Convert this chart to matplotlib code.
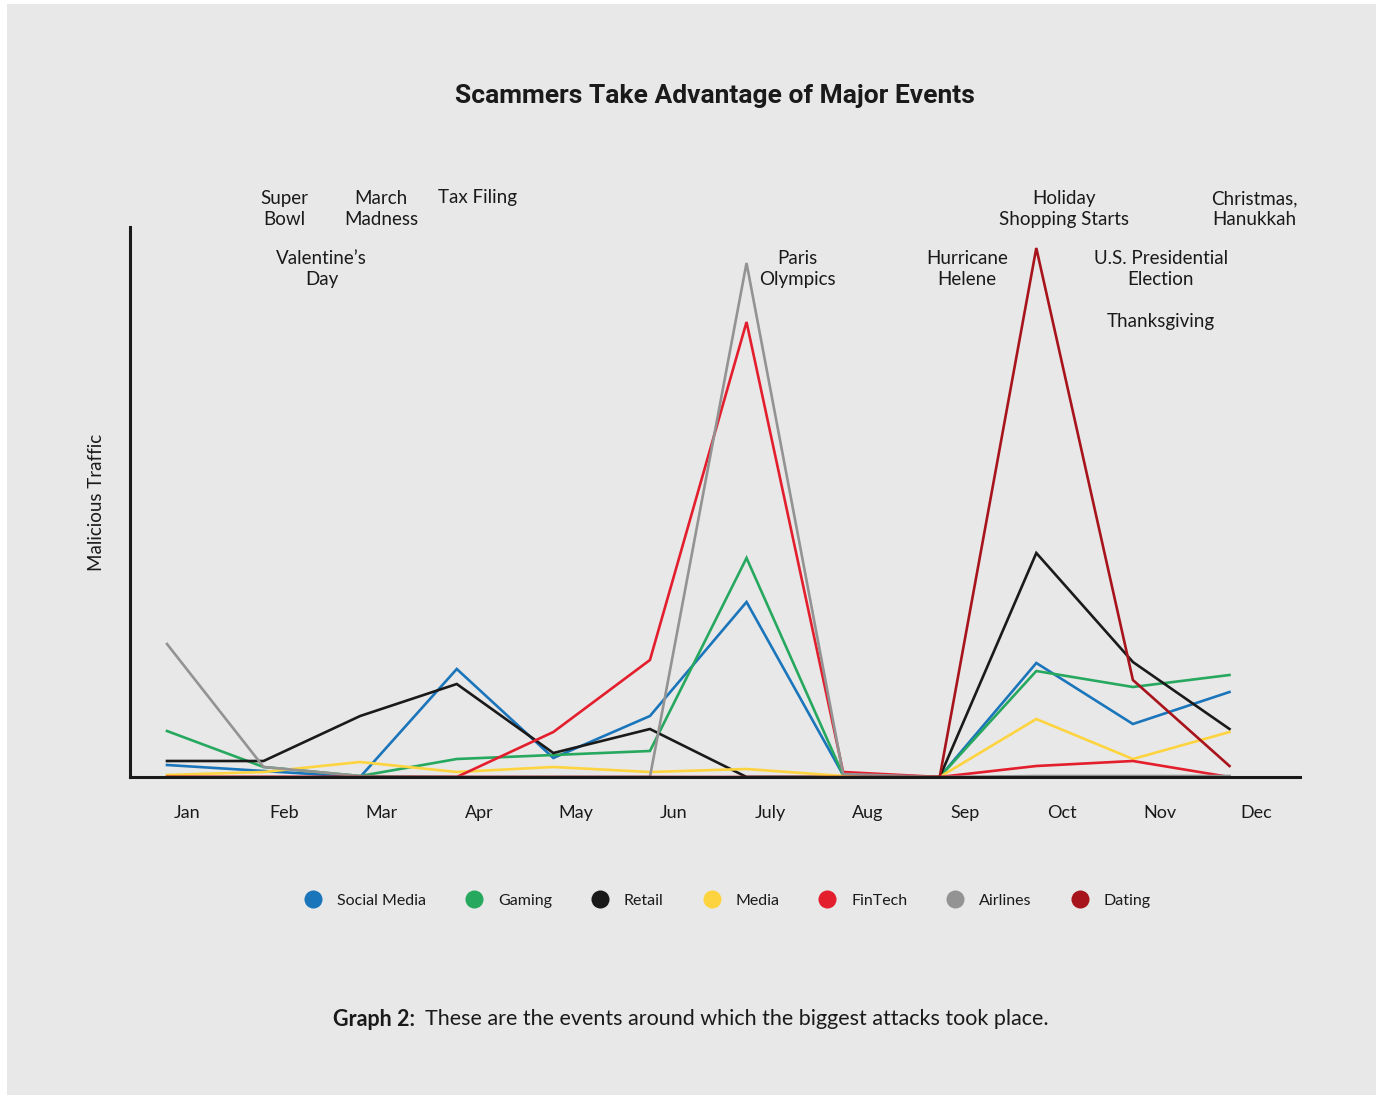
import matplotlib.pyplot as plt
from matplotlib.lines import Line2D
from matplotlib.patches import Rectangle

# ------------------
# Data (index of malicious traffic)
# ------------------
months = ["Jan", "Feb", "Mar", "Apr", "May", "Jun", "July", "Aug", "Sep", "Oct", "Nov", "Dec"]

social_media = [12, 6, 0, 108, 19, 61, 175, 2, 0, 114, 53, 85]
gaming = [46, 10, 1, 18, 22, 26, 219, 2, 0, 106, 90, 102]
retail = [16, 16, 61, 93, 24, 48, 0, 0, 0, 224, 115, 48]
media = [2, 5, 15, 5, 10, 5, 8, 1, 0, 58, 18, 45]
fintech = [0, 0, 0, 0, 45, 117, 455, 5, 0, 11, 16, 0]
airlines = [133, 10, 1, 0, 0, 0, 514, 3, 0, 1, 1, 1]
dating = [0, 0, 0, 0, 0, 0, 0, 0, 0, 529, 97, 11]

series_names = ["Social Media", "Gaming", "Retail", "Media", "FinTech", "Airlines", "Dating"]
series_values = [social_media, gaming, retail, media, fintech, airlines, dating]
series_colors = ["#1b75bb", "#27a85f", "#1a1a1a", "#fdd43f", "#e31e2d", "#939393", "#a8141b"]

# events: label, x position (month units), y position (traffic units)
event_labels = ["Super\nBowl", "March\nMadness", "Tax Filing", "Valentine\u2019s\nDay", "Paris\nOlympics",
                "Hurricane\nHelene", "Holiday\nShopping Starts", "U.S. Presidential\nElection",
                "Thanksgiving", "Christmas,\nHanukkah"]
event_x = [1.21, 2.215, 3.21, 1.60, 6.53, 8.28, 9.29, 10.29, 10.29, 11.26]
event_y = [568, 568, 579, 508, 508, 508, 568, 508, 455, 568]

bg = "#e8e8e8"
txt = "#1a1a1a"
plt.rcParams['font.family'] = ['Lato', 'DejaVu Sans']

fig = plt.figure(figsize=(13.83, 10.98), dpi=100, facecolor="white")
fig.patches.append(Rectangle((7 / 1383, 1 - 1095 / 1098), 1369 / 1383, 1091 / 1098,
                             transform=fig.transFigure, facecolor=bg, edgecolor="none", zorder=-10))

ax = fig.add_axes([130 / 1383, 1 - 777 / 1098, 1170 / 1383, 550 / 1098])
ax.set_facecolor("none")

x = list(range(len(months)))
for name, vals, col in zip(series_names, series_values, series_colors):
    ax.plot(x, vals, color=col, lw=1.9, label=name, solid_joinstyle="miter")

ax.set_xlim(-0.383, 11.73)
ax.set_ylim(0, 550)

for side in ["top", "right"]:
    ax.spines[side].set_visible(False)
for side in ["left", "bottom"]:
    ax.spines[side].set_color(txt)
    ax.spines[side].set_linewidth(2.2)
    ax.spines[side].set_zorder(5)

# month labels sit a little to the right of the data points in the original
ax.set_yticks([])
ax.set_xticks([0.21 + i * 1.0065 for i in x])
ax.set_xticklabels(months, fontsize=13, color=txt)
ax.tick_params(axis="x", length=0, pad=20)
ax.set_ylabel("Malicious Traffic", fontsize=13.5, color=txt, labelpad=18)

for lab, ex, ey in zip(event_labels, event_x, event_y):
    ax.text(ex, ey, lab, ha="center", va="center", ma="center", fontsize=13.5, color=txt,
            linespacing=1.3, clip_on=False)

fig.text(715 / 1383, 1 - 96 / 1098, "Scammers Take Advantage of Major Events", ha="center", va="center",
         fontsize=19, fontweight="bold", color=txt, family=['Roboto', 'DejaVu Sans'])

handles = [Line2D([], [], marker="o", ls="none", markersize=13, markerfacecolor=c, markeredgecolor="none")
           for c in series_colors]
fig.legend(handles, series_names, loc="center", bbox_to_anchor=(724 / 1383, 1 - 901 / 1098), ncol=7,
           frameon=False, fontsize=11.5, handletextpad=0.5, columnspacing=2.0, labelcolor=txt)

cap = fig.text(333 / 1383, 1 - 1019 / 1098, "Graph 2:", ha="left", va="center", fontsize=15.5,
               fontweight="bold", color=txt)
ax.annotate("These are the events around which the biggest attacks took place.", xy=(1, 0.5),
            xycoords=cap, xytext=(7, 0), textcoords="offset points", ha="left", va="center",
            fontsize=15.5, color=txt)

fig.savefig("out.png", dpi=100, facecolor="white")
